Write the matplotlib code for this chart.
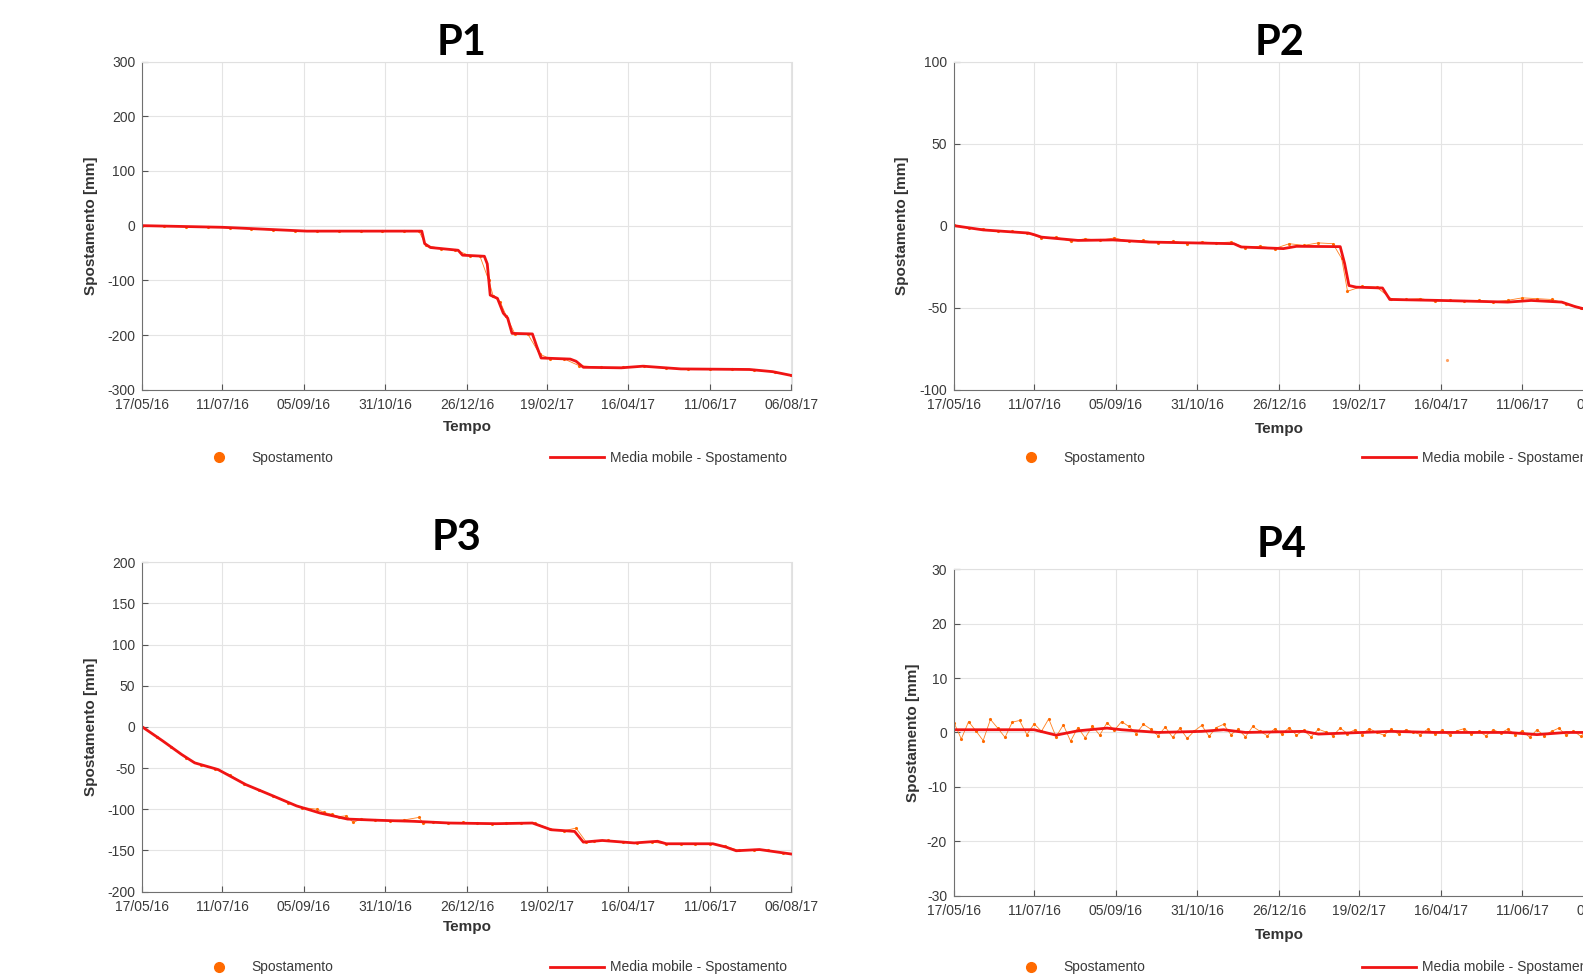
import matplotlib
matplotlib.use('Agg')
import numpy as np
import pandas as pd
import matplotlib.dates as mdates
from matplotlib import pyplot as plt
from matplotlib.lines import Line2D

plt.rcParams['font.family'] = ['Liberation Sans', 'DejaVu Sans']
plt.rcParams['axes.unicode_minus'] = False

W, H = 1583, 974
RED = '#f01414'
ORANGE = '#ff6a00'

tick_labels = ['17/05/16', '11/07/16', '05/09/16', '31/10/16', '26/12/16',
               '19/02/17', '16/04/17', '11/06/17', '06/08/17']
start = pd.Timestamp('2016-05-17')

# P1 - moving average and raw points (days from 17/05/16, mm)
p1_line_days = [0, 55, 113, 192, 194, 198, 217, 220, 235, 237, 239, 244, 248, 251, 254,
                268, 271, 274, 294, 298, 303, 329, 344, 370, 417, 433, 446]
p1_line_mm = [0, -3, -10, -10, -33, -40, -45, -54, -56, -70, -127, -133, -160, -169, -197,
              -198, -221, -242, -244, -248, -259, -260, -257, -262, -263, -267, -274]
p1_pts_days = [0, 15, 30, 45, 60, 75, 90, 105, 120, 135, 150, 165, 180, 190, 195, 205, 215,
               225, 232, 238, 241, 246, 250, 256, 265, 273, 280, 290, 300, 315, 330, 345,
               360, 375, 390, 405, 420, 435, 446]
p1_pts_mm = [0, -1, -2, -3, -4, -6, -8, -9, -10, -10, -10, -10, -10, -10, -36, -42, -44,
             -55, -56, -100, -128, -140, -165, -198, -199, -235, -243, -244, -256, -259,
             -259, -257, -260, -262, -263, -263, -264, -268, -274]

# P2
p2_line_days = [0, 20, 51, 55, 60, 85, 109, 134, 192, 197, 226, 235, 265, 268, 271, 276,
                294, 299, 334, 380, 396, 417, 426, 432, 446]
p2_line_mm = [0, -2.6, -4.5, -5.5, -7, -9, -8.7, -10, -11, -13, -14, -12.6, -12.8, -23,
              -36.5, -37.5, -38, -45, -45.6, -46.6, -45.6, -46.6, -49.3, -50.7, -52]
p2_pts_days = [0, 10, 20, 30, 40, 50, 60, 70, 80, 90, 100, 110, 120, 130, 140, 150, 160,
               170, 180, 190, 200, 210, 220, 230, 240, 250, 260, 266, 270, 280, 290, 300,
               310, 320, 330, 340, 350, 360, 370, 380, 390, 400, 410, 420, 430, 440]
p2_pts_mm = [0.5, -1.5, -2, -3.5, -3.5, -4.5, -7.5, -7, -9.5, -8, -9, -7.5, -9.5, -9,
             -10.5, -9.5, -11, -10, -10.5, -10, -13.5, -12.5, -14, -11, -12, -10.5, -11,
             -20, -40, -37, -37.5, -44.5, -45, -44.5, -46, -45.5, -46, -45.5, -46.5,
             -45.5, -44, -44.5, -45, -47.5, -50, -51.5]
p2_outlier_days = [338]
p2_outlier_mm = [-81.7]

# P3
p3_line_days = [0, 14, 27, 36, 52, 71, 90, 106, 122, 141, 163, 186, 211, 243, 268, 281,
                297, 303, 316, 338, 354, 360, 392, 401, 408, 424, 446]
p3_line_mm = [0, -17, -33.5, -43.7, -51.8, -70, -84, -96, -104.6, -112, -113.5, -114.7,
              -116.8, -117.6, -116.8, -125, -127, -140, -138, -141, -139, -142, -142,
              -146, -150.5, -149, -154.5]
p3_pts_days = [0, 10, 20, 30, 40, 50, 60, 70, 80, 90, 100, 110, 120, 125, 130, 135, 140,
               145, 150, 160, 170, 180, 190, 193, 200, 210, 220, 230, 240, 250, 260, 270,
               280, 290, 298, 305, 310, 320, 330, 340, 350, 360, 370, 380, 390, 400, 410,
               420, 430, 440]
p3_pts_mm = [0, -12, -25, -38, -46, -51, -58, -69, -77, -84, -92, -98, -100, -104, -106,
             -109, -108, -116, -112, -113, -114, -113, -110, -117, -115, -117, -116, -117,
             -118, -117, -117, -117, -124, -126, -123, -140, -139, -138, -140, -141, -140,
             -142, -142, -142, -142, -145, -150, -149, -150, -153]

# P4
p4_line_days = [0, 20, 55, 70, 85, 105, 115, 140, 170, 185, 200, 240, 250, 300, 330, 380,
                400, 420, 446]
p4_line_mm = [0.5, 0.5, 0.5, -0.5, 0.3, 0.8, 0.5, 0, 0.2, 0.5, 0, 0.2, -0.3, 0.2, 0, 0,
              -0.4, 0, 0]
p4_pts_days = [0, 5, 10, 15, 20, 25, 30, 35, 40, 45, 50, 55, 60, 65, 70, 75,
               80, 85, 90, 95, 100, 105, 110, 115, 120, 125, 130, 135, 140, 145, 150,
               155, 160, 165, 170, 175, 180, 185, 190, 195, 200, 205, 210, 215, 220, 225,
               230, 235, 240, 245, 250, 255, 260, 265, 270, 275, 280, 285, 290, 295, 300,
               305, 310, 315, 320, 325, 330, 335, 340, 345, 350, 355, 360, 365, 370, 375,
               380, 385, 390, 395, 400, 405, 410, 415, 420, 425, 430, 435, 440, 445]
p4_pts_mm = [1.8, -1.2, 2.0, 0.3, -1.5, 2.4, 0.8, -0.9, 1.9, 2.2, -0.4, 1.6, 0.2, 2.5, -0.8, 1.4,
             -1.6, 0.9, -1.0, 1.2, -0.5, 1.8, 0.4, 2.0, 1.1, -0.2, 1.5, 0.6, -0.6, 1.0, -0.9,
             0.8, -1.1, 0.3, 1.3, -0.7, 0.9, 1.5, -0.4, 0.6, -0.8, 1.1, 0.2, -0.6, 0.7, -0.3,
             0.9, -0.5, 0.4, -0.8, 0.6, 0.1, -0.6, 0.8, -0.2, 0.5, -0.4, 0.7, 0.0, -0.5, 0.6,
             -0.3, 0.5, 0.1, -0.4, 0.6, -0.2, 0.4, -0.5, 0.3, 0.7, -0.3, 0.2, -0.6, 0.5, -0.1,
             0.6, -0.4, 0.3, -0.9, 0.5, -0.6, 0.2, 0.8, -0.5, 0.3, -0.7, 0.4, -0.2, 0.5]

p1_yticks = [300, 200, 100, 0, -100, -200, -300]
p2_yticks = [100, 50, 0, -50, -100]
p3_yticks = [200, 150, 100, 50, 0, -50, -100, -150, -200]
p4_yticks = [30, 20, 10, 0, -10, -20, -30]


def to_dates(days):
    return mdates.date2num(start) + np.array(days, dtype=float)


def draw_panel(fig, left, top, right, bottom, title, title_xy, ylabel_x, line_days, line_mm,
               pts_days, pts_mm, yticks, tempo_dy, legend_dy):
    aw, ah = right - left, bottom - top
    ax = fig.add_axes([left / W, 1 - bottom / H, aw / W, ah / H])
    ax.plot(to_dates(pts_days), pts_mm, color='#ff8020', lw=0.6, marker='.', ms=2.5,
            mfc=ORANGE, mec=ORANGE)
    ax.plot(to_dates(line_days), line_mm, color=RED, lw=2.0)

    tick_dates = mdates.date2num(pd.to_datetime(tick_labels, format='%d/%m/%y'))
    ax.set_xticks(tick_dates)
    ax.set_xticklabels(tick_labels)
    ax.set_xlim(tick_dates[0], tick_dates[-1])
    ax.set_yticks(yticks)
    ax.set_ylim(min(yticks), max(yticks))
    ax.grid(True, color='#e4e4e4', lw=0.8)
    ax.set_axisbelow(True)
    ax.tick_params(direction='in', length=4, labelsize=10, colors='#555555',
                   labelcolor='#3a3a3a')
    ax.tick_params(axis='x', pad=6)
    ax.tick_params(axis='y', pad=5)
    for s in ['left', 'bottom']:
        ax.spines[s].set_color('#707070')
    for s in ['top', 'right']:
        ax.spines[s].set_color('#e0e0e0')

    ax.set_xlabel('Tempo', fontsize=11, fontweight='bold', color='#333333', va='center')
    ax.xaxis.set_label_coords(0.5, -tempo_dy / ah)
    ax.set_ylabel('Spostamento [mm]', fontsize=11, fontweight='bold', color='#333333',
                  va='center')
    ax.yaxis.set_label_coords(-(left - ylabel_x) / aw, 0.5)

    fig.text(title_xy[0] / W, 1 - title_xy[1] / H, title, fontsize=30, fontweight='bold',
             ha='center', va='center', family=['Lato', 'DejaVu Sans'])

    ly = 1 - (bottom + legend_dy) / H
    dot = Line2D([], [], color=ORANGE, marker='o', ls='none', ms=7)
    leg1 = ax.legend([dot], ['Spostamento'], loc='center left', frameon=False,
                     bbox_to_anchor=((left + 63) / W, ly), bbox_transform=fig.transFigure,
                     borderpad=0, borderaxespad=0, handlelength=2.0, handletextpad=1.35,
                     fontsize=10, labelcolor='#3a3a3a')
    ax.add_artist(leg1)
    ln = Line2D([], [], color=RED, lw=2)
    ax.legend([ln], ['Media mobile - Spostamento'], loc='center left', frameon=False,
              bbox_to_anchor=((left + 408) / W, ly), bbox_transform=fig.transFigure,
              borderpad=0, borderaxespad=0, handlelength=3.9, handletextpad=0.4,
              fontsize=10, labelcolor='#3a3a3a')
    return ax


fig = plt.figure(figsize=(W / 100, H / 100), dpi=100)

draw_panel(fig, 142.3, 61.6, 791.5, 389.7, 'P1', (462, 43), 91,
           p1_line_days, p1_line_mm, p1_pts_days, p1_pts_mm, p1_yticks, 37.5, 68)
ax2 = draw_panel(fig, 954, 61.6, 1604, 389.7, 'P2', (1280, 43), 902,
                 p2_line_days, p2_line_mm, p2_pts_days, p2_pts_mm, p2_yticks, 39, 68)
ax2.plot(to_dates(p2_outlier_days), p2_outlier_mm, ls='none', marker='.', ms=2.5,
         color='#ffa060')
draw_panel(fig, 142.3, 562.3, 791.5, 891.5, 'P3', (457, 538), 91,
           p3_line_days, p3_line_mm, p3_pts_days, p3_pts_mm, p3_yticks, 36, 76)
draw_panel(fig, 954, 569.4, 1604, 895.5, 'P4', (1282, 545), 913,
           p4_line_days, p4_line_mm, p4_pts_days, p4_pts_mm, p4_yticks, 39, 72)

fig.savefig('out.png', dpi=100)
